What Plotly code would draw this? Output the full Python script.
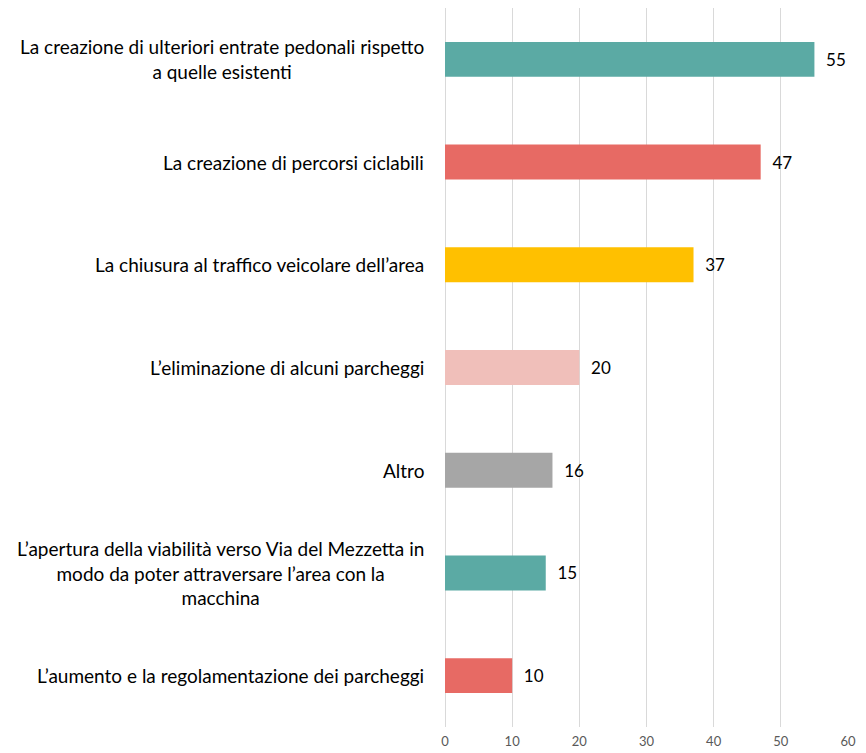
import plotly.graph_objects as go

categories = [
    "La creazione di ulteriori entrate pedonali rispetto<br>a quelle esistenti",
    "La creazione di percorsi ciclabili",
    "La chiusura al traffico veicolare dell’area",
    "L’eliminazione di alcuni parcheggi",
    "Altro",
    "L’apertura della viabilità verso Via del Mezzetta in<br>modo da poter attraversare l’area con la<br>macchina",
    "L’aumento e la regolamentazione dei parcheggi",
]
values = [55, 47, 37, 20, 16, 15, 10]
colors = ["#5BAAA4", "#E76A64", "#FFC000", "#F0BFBA", "#A6A6A6", "#5BAAA4", "#E76A64"]
x_ticks = [0, 10, 20, 30, 40, 50, 60]

ids = list(range(len(categories)))

fig = go.Figure()
fig.add_trace(go.Bar(
    x=values,
    y=ids,
    orientation="h",
    marker=dict(color=colors, line=dict(width=0)),
    width=0.34,
    text=[str(v) for v in values],
    texttemplate="  %{text}",
    textposition="outside",
    textfont=dict(family="Lato, Open Sans, sans-serif", size=17, color="#000000"),
    cliponaxis=False,
    hoverinfo="skip",
))

for i, c in enumerate(categories):
    fig.add_annotation(
        x=0, xref="paper", xanchor="right", xshift=-19,
        y=i, yref="y", yanchor="middle",
        text=c, showarrow=False, align="center",
        font=dict(family="Lato, Open Sans, sans-serif", size=19, color="#000000"),
    )

fig.update_layout(
    width=858, height=745,
    margin=dict(l=437, r=18, t=0, b=26),
    paper_bgcolor="white", plot_bgcolor="white",
    showlegend=False,
)
fig.update_xaxes(
    range=[0, 60], tickvals=x_ticks, ticktext=[str(t) for t in x_ticks],
    showgrid=True, gridcolor="#D9D9D9", gridwidth=1,
    zeroline=True, zerolinecolor="#D9D9D9", zerolinewidth=1,
    showline=False, ticks="", ticklabelstandoff=5, automargin=False,
    tickfont=dict(family="Lato, Open Sans, sans-serif", size=13, color="#595959"),
)
fig.update_yaxes(
    range=[6.5, -0.5], showticklabels=False, showgrid=False, zeroline=False,
    showline=False, ticks="", automargin=False,
)

fig.write_html("out.html")
